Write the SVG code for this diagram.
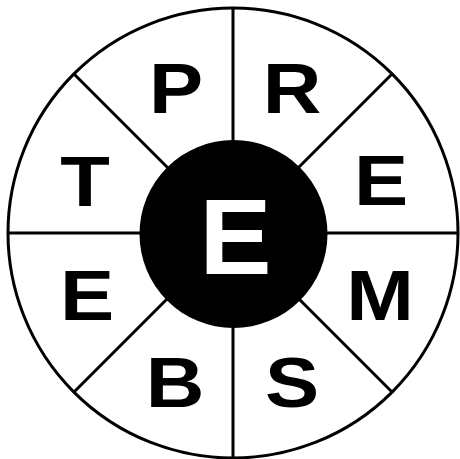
<svg xmlns="http://www.w3.org/2000/svg" width="460" height="459" viewBox="0 0 460 459">
<style>
.ln{stroke:#000;stroke-width:3;fill:none}
.lt{font-family:"Liberation Sans",Arial,sans-serif;font-weight:bold;font-size:70px;text-anchor:middle;fill:#000}
.ce{font-family:"Liberation Sans",Arial,sans-serif;font-weight:bold;font-size:108px;text-anchor:middle;fill:#fff}
</style>
<rect width="460" height="459" fill="#fff"/>
<g id="connectors">
<circle class="ln" cx="233" cy="233" r="225"/>
<line class="ln" x1="233" y1="8" x2="233" y2="458"/>
<line class="ln" x1="8" y1="233" x2="458" y2="233"/>
<line class="ln" x1="74" y1="74" x2="392" y2="392"/>
<line class="ln" x1="392" y1="74" x2="74" y2="392"/>
</g>
<g id="center">
<circle cx="233.5" cy="234" r="94" fill="#000"/>
<text class="ce" x="235.5" y="274">E</text>
</g>
<g id="n-P"><text class="lt" transform="translate(176,113) scale(1.16,1)">P</text></g>
<g id="n-R"><text class="lt" transform="translate(292,113) scale(1.16,1)">R</text></g>
<g id="n-T"><text class="lt" transform="translate(85,206) scale(1.16,1)">T</text></g>
<g id="n-E1"><text class="lt" transform="translate(381,205) scale(1.16,1)">E</text></g>
<g id="n-E2"><text class="lt" transform="translate(87,320) scale(1.16,1)">E</text></g>
<g id="n-M"><text class="lt" transform="translate(380,320) scale(1.16,1)">M</text></g>
<g id="n-B"><text class="lt" transform="translate(175,407) scale(1.16,1)">B</text></g>
<g id="n-S"><text class="lt" transform="translate(292,407) scale(1.16,1)">S</text></g>
</svg>
